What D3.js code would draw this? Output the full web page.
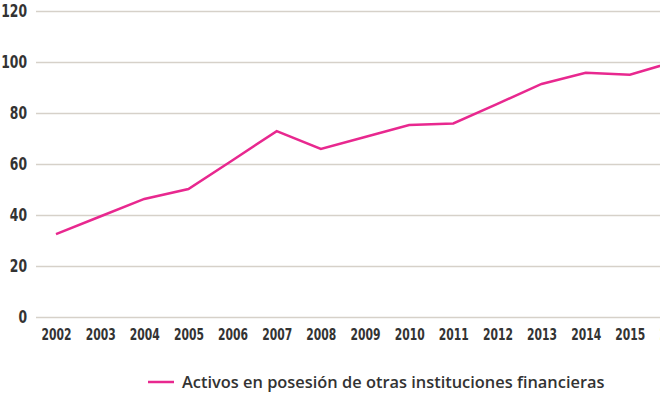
<!DOCTYPE html>
<html>
<head>
<meta charset="utf-8">
<script src="https://cdn.jsdelivr.net/npm/d3@7"></script>
<style>
  body { margin: 0; background: #fff; }
  .tick text { font-family: "DejaVu Sans", sans-serif; font-weight: bold; fill: #333; }
  .legend text { font-family: "Open Sans", sans-serif; font-weight: 600; fill: #333; }
</style>
</head>
<body>
<div id="chart"></div>
<script>
var years = [2002, 2003, 2004, 2005, 2006, 2007, 2008, 2009, 2010, 2011, 2012, 2013, 2014, 2015, 2016];
var activos = [32.5, 39.4, 46.3, 50.2, 61.5, 72.9, 65.9, 70.6, 75.3, 75.9, 83.6, 91.4, 95.8, 95.0, 100.1];
var yTicks = [0, 20, 40, 60, 80, 100, 120];
var seriesName = "Activos en posesión de otras instituciones financieras";

var width = 660, height = 393;

var svg = d3.select("#chart")
  .append("svg")
  .attr("width", width)
  .attr("height", height);

var x = d3.scaleLinear()
  .domain([2002, 2016])
  .range([56, 674]);

var y = d3.scaleLinear()
  .domain([0, 120])
  .range([317, 11]);

// gridlines + y labels
var yAxis = d3.axisLeft(y)
  .tickValues(yTicks)
  .tickSize(-(width - 36))
  .tickPadding(9)
  .tickFormat(d3.format("d"));

var gy = svg.append("g")
  .attr("transform", "translate(36,0)")
  .call(yAxis);
gy.select(".domain").remove();
gy.selectAll(".tick line").attr("stroke", "#d6d1c9").attr("stroke-width", 1.5);
// squeeze digits, the source font is a condensed face
gy.selectAll(".tick text")
  .style("font-size", "18px")
  .attr("textLength", function(d) { return String(d).length * 8.6; })
  .attr("lengthAdjust", "spacingAndGlyphs");

// x labels
var xAxis = d3.axisBottom(x)
  .tickValues(years)
  .tickSize(0)
  .tickPadding(12)
  .tickFormat(d3.format("d"));

var gx = svg.append("g")
  .attr("transform", "translate(0,317)")
  .call(xAxis);
gx.select(".domain").remove();
gx.selectAll(".tick text")
  .style("font-size", "15.5px")
  .attr("textLength", 30)
  .attr("lengthAdjust", "spacingAndGlyphs");

// line
var line = d3.line()
  .x(function(d, i) { return x(years[i]); })
  .y(function(d) { return y(d); });

svg.append("path")
  .datum(activos)
  .attr("fill", "none")
  .attr("stroke", "#e8288f")
  .attr("stroke-width", 2.5)
  .attr("d", line);

// legend
var legend = svg.append("g").attr("class", "legend");
legend.append("line")
  .attr("x1", 148).attr("x2", 174)
  .attr("y1", 382).attr("y2", 382)
  .attr("stroke", "#e8288f")
  .attr("stroke-width", 2.5);
legend.append("text")
  .attr("x", 182)
  .attr("y", 388)
  .style("font-size", "16.4px")
  .text(seriesName);
</script>
</body>
</html>
